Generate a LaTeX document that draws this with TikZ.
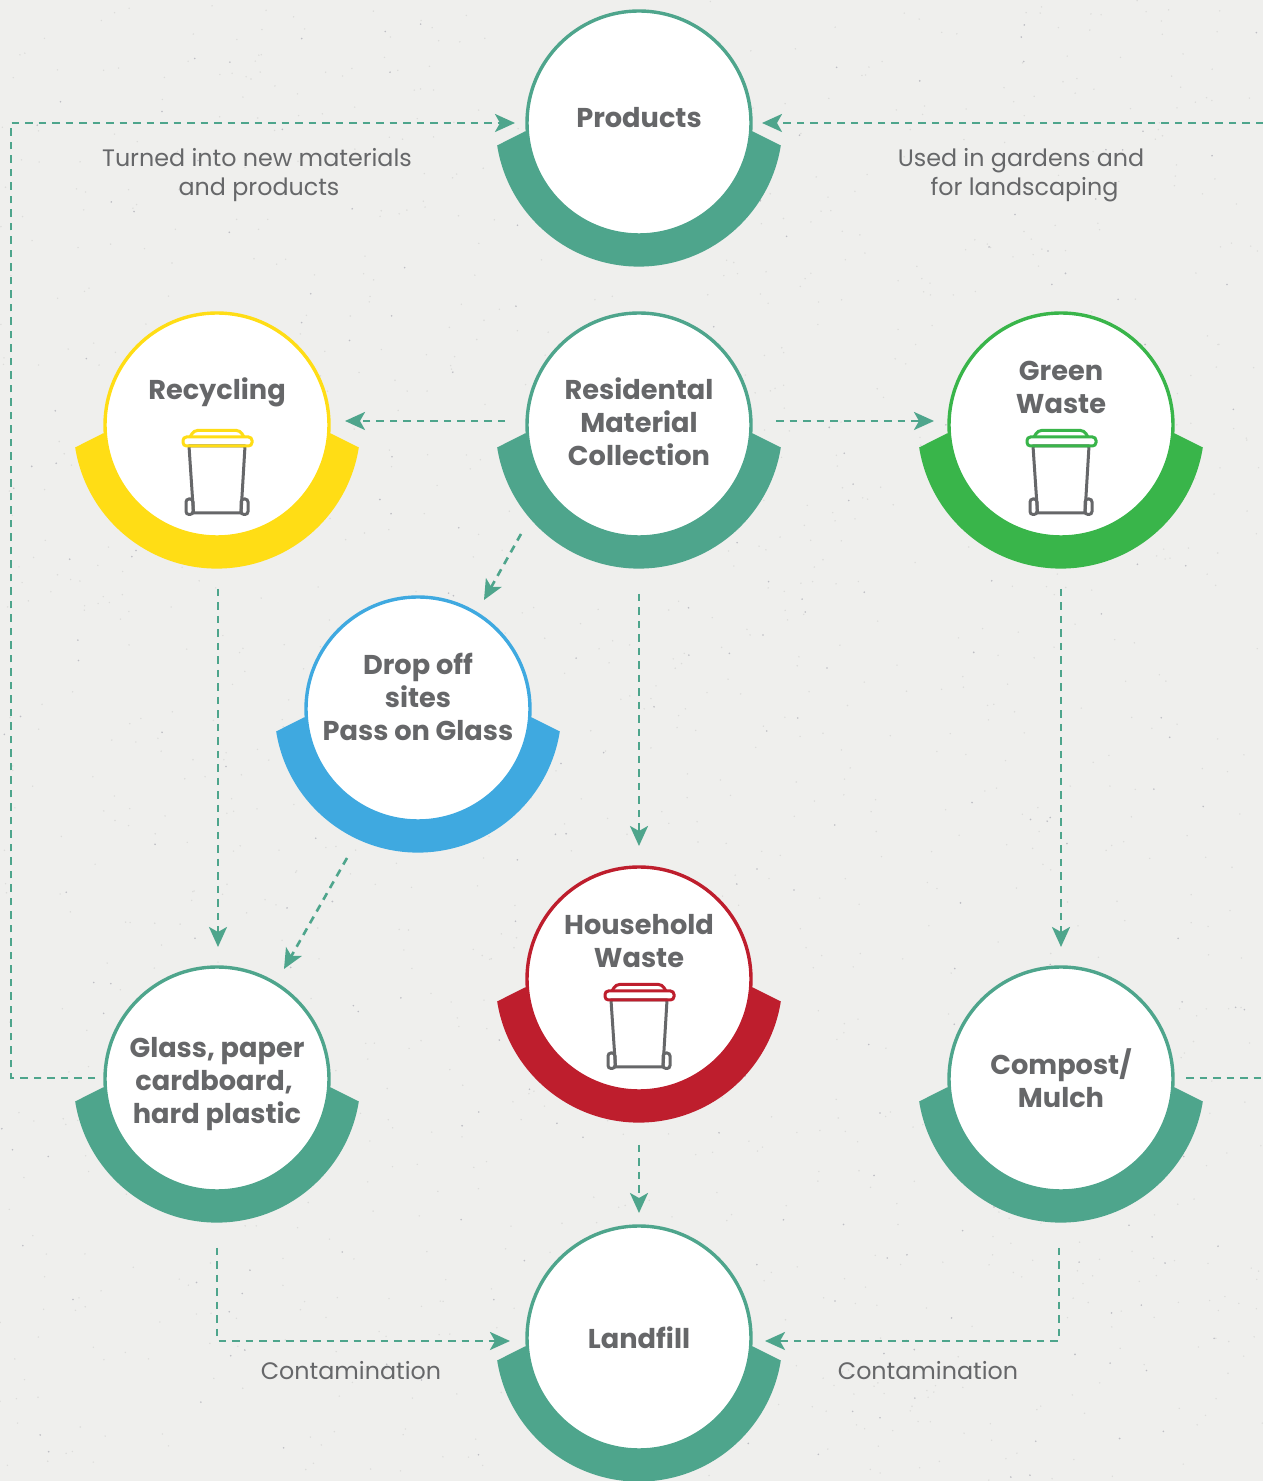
\documentclass[tikz,border=0pt]{standalone}
\usepackage{fontspec}
\setmainfont{Poppins}
\usetikzlibrary{arrows.meta,calc}
\definecolor{paper}{HTML}{EFEFED}
\definecolor{speck}{HTML}{DCDCDA}
\definecolor{speckdark}{HTML}{BEBEC4}
\definecolor{teal}{HTML}{4EA58C}
\definecolor{binyellow}{HTML}{FFDD15}
\definecolor{bingreen}{HTML}{39B54A}
\definecolor{binred}{HTML}{BE1E2D}
\definecolor{binblue}{HTML}{3FA9E0}
\definecolor{ink}{HTML}{666769}
\tikzset{
  disc/.style={circle,draw=#1,fill=white,line width=3.4pt,minimum size=224pt,inner sep=0pt},
  flow/.style={draw=teal,line width=2.6pt,dash pattern=on 7.5pt off 6pt,
    -{Stealth[length=20pt,width=18pt,inset=5pt,sep=0pt]}},
  flowplain/.style={draw=teal,line width=2.6pt,dash pattern=on 7.5pt off 6pt},
  title/.style={font=\bfseries\fontsize{27.2}{33}\selectfont,text=ink,align=center,inner sep=0pt},
  note/.style={font=\fontsize{23.8}{29}\selectfont,text=ink,align=center,inner sep=0pt},
  pics/bin/.style={code={
    \draw[ink,line width=3pt,line join=round] (-28,-21) -- (-23.5,-88) -- (24,-88) -- (28,-21) -- cycle;
    \draw[ink,line width=3pt,rounded corners=3pt] (-31,-74) rectangle (-24,-89.5);
    \draw[ink,line width=3pt,rounded corners=3pt] (24,-74) rectangle (31,-89.5);
    \draw[#1,line width=3pt,rounded corners=3.5pt] (-27,-12) -- (-23,-5.5) -- (23,-5.5) -- (27,-12);
    \draw[#1,line width=3pt,rounded corners=3.5pt] (-34,-21) rectangle (35,-12);
  }}
}
\newcommand{\crescent}[3]{%
  \fill[#3] (#1,#2) ++(189:143.6pt) arc[start angle=189,end angle=351,radius=143.6pt]
    -- ++(-28,14) -- ++(-228,0) -- cycle;}
\newcommand{\station}[5]{% name, x, y, colour, crescent colour
  \crescent{#2}{#3}{#5}
  \node[disc=#4] (#1) at (#2,#3) {};}
\begin{document}
\begin{tikzpicture}[x=1pt,y=1pt]
\useasboundingbox (0,0) rectangle (1263,1481);
\fill[paper] (0,0) rectangle (1263,1481);
\pgfmathsetseed{4211}
\foreach \i in {1,...,1400}{
  \pgfmathsetmacro{\px}{rnd*1263}\pgfmathsetmacro{\py}{rnd*1481}
  \fill[speck] (\px,\py) circle[radius=0.8pt];}
\foreach \i in {1,...,260}{
  \pgfmathsetmacro{\px}{rnd*1263}\pgfmathsetmacro{\py}{rnd*1481}
  \fill[speckdark] (\px,\py) circle[radius=0.9pt];}
\station{prod}{639}{1358}{teal}{teal}
\station{rec}{217}{1056}{binyellow}{binyellow}
\station{res}{639}{1056}{teal}{teal}
\station{grn}{1061}{1056}{bingreen}{bingreen}
\station{drop}{418}{772}{binblue}{binblue}
\station{house}{639}{502}{binred}{binred}
\station{glass}{217}{402}{teal}{teal}
\station{comp}{1061}{402}{teal}{teal}
\station{land}{639}{143}{teal}{teal}
\node[title] (tprod) at (639,1363) {Products};
\node[title] (trec) at (217,1089) {Recycling};
\node[title] (tres) at (639,1059) {Residental\\Material\\Collection};
\node[title] (tgrn) at (1061,1094) {Green\\Waste};
\node[title] (tdrop) at (418,784) {Drop off\\sites\\Pass on Glass};
\node[title] (thouse) at (639,540) {Household\\Waste};
\node[title] (tglass) at (217,397) {Glass, paper\\cardboard,\hspace*{6pt}\mbox{}\\hard plastic};
\node[title] (tcomp) at (1061,402.5) {Compost/\\Mulch};
\node[title] (tland) at (639,143) {Landfill};
\pic at (rec.center) {bin=binyellow};
\pic at (grn.center) {bin=bingreen};
\pic at (house.center) {bin=binred};
\coordinate (lft) at (11,1358);
\coordinate (rtop) at (1263,1358);
\coordinate (rbot) at (1263,403);
\draw[flow] ([xshift=-134pt,yshift=4pt]res.center) -- ([xshift=128pt,yshift=4pt]rec.center);
\draw[flow] ([xshift=137pt,yshift=4pt]res.center) -- ([xshift=-127pt,yshift=4pt]grn.center);
\draw[flow] ([xshift=-118pt,yshift=-109pt]res.center) -- ([xshift=66pt,yshift=109pt]drop.center);
\draw[flow] ([yshift=-169pt]res.center) -- ([yshift=133pt]house.center);
\draw[flow] ([xshift=1pt,yshift=-164pt]rec.center) -- ([xshift=1pt,yshift=132pt]glass.center);
\draw[flow] ([xshift=-71pt,yshift=-149pt]drop.center) -- ([xshift=67pt,yshift=110pt]glass.center);
\draw[flow] ([yshift=-164pt]grn.center) -- ([yshift=132pt]comp.center);
\draw[flow] ([yshift=-166pt]house.center) -- ([yshift=125pt]land.center);
\draw[flow] ([yshift=-169pt]glass.center) |- ([xshift=-129pt,yshift=-3pt]land.center);
\draw[flow] ([xshift=-2pt,yshift=-169pt]comp.center) |- ([xshift=126pt,yshift=-3pt]land.center);
\draw[flow] ([xshift=-122pt,yshift=1pt]glass.center) -| (lft) -- ([xshift=-124pt]prod.center);
\draw[flow] (rtop) -- ([xshift=123pt]prod.center);
\draw[flowplain] ([xshift=125pt,yshift=1pt]comp.center) -- (rbot);
\node[note] (n1) at (257,1306) {Turned into new materials\\\hspace*{4pt}and products};
\node[note] (n2) at (1021,1306) {Used in gardens and\\\hspace*{7pt}for landscaping};
\node[note] (n3) at (351,110) {Contamination};
\node[note] (n4) at (928,110) {Contamination};
\end{tikzpicture}
\end{document}
